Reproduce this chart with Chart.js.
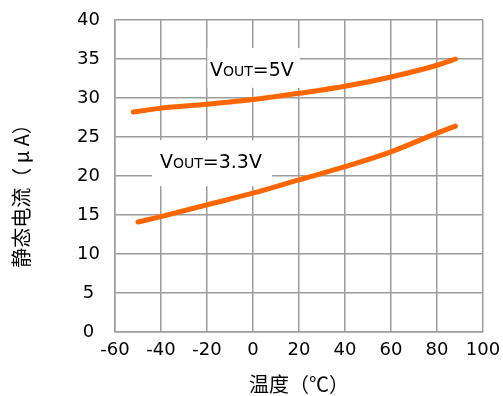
<!DOCTYPE html>
<html>
<head>
<meta charset="utf-8">
<script src="https://cdn.jsdelivr.net/npm/chart.js@4/dist/chart.umd.min.js"></script>
<style>
  body { margin: 0; background: #fff; }
  canvas { display: block; }
</style>
</head>
<body>
<canvas id="grafico" width="503" height="396"></canvas>
<script>
// temperatura (℃) e corrente (μA) de cada curva
const temp5V = [-52, -40, -20, 0, 20, 40, 60, 80, 88];
const corrente5V = [28.2, 28.7, 29.2, 29.8, 30.6, 31.5, 32.7, 34.2, 35.0];
const temp33V = [-50, -40, -20, 0, 20, 40, 60, 80, 88];
const corrente33V = [14.1, 14.8, 16.3, 17.8, 19.5, 21.2, 23.1, 25.5, 26.4];

const ticksX = [-60, -40, -20, 0, 20, 40, 60, 80, 100];
const ticksY = [0, 5, 10, 15, 20, 25, 30, 35, 40];
const rotulos = ['=5V', '=3.3V'];
const tituloY = '静态电流（ μ A）';
const tituloX = '温度（℃）';

const LARANJA = 'rgb(255, 102, 0)';
const GRADE = '#9c9c9c';
const FONTE_NUM = '"DejaVu Sans", Arial, sans-serif';
const FONTE_CJK = '"Noto Sans CJK SC", sans-serif';

function pontos(xs, ys) {
    return xs.map((x, i) => ({ x: x, y: ys[i] }));
}

// caixas brancas com o texto VOUT, desenhadas por cima da grade
const caixas = [
    { x0: -19.8, x1: 20.4, y0: 36.4, y1: 31.3, tx: 210, ty: 76, texto: rotulos[0] },
    { x0: -43.9, x1: 8.3, y0: 24.6, y1: 18.7, tx: 160, ty: 168, texto: rotulos[1] }
];

const rotuloPlugin = {
    id: 'rotuloVout',
    beforeDatasetsDraw(chart) {
        const ctx = chart.ctx;
        const sx = chart.scales.x, sy = chart.scales.y;
        ctx.save();
        caixas.forEach(c => {
            const l = sx.getPixelForValue(c.x0), r = sx.getPixelForValue(c.x1);
            const t = sy.getPixelForValue(c.y0), b = sy.getPixelForValue(c.y1);
            ctx.fillStyle = '#fff';
            ctx.fillRect(l, t, r - l, b - t);

            ctx.fillStyle = '#000';
            ctx.textBaseline = 'alphabetic';
            ctx.textAlign = 'left';
            let x = c.tx;
            ctx.font = '19px ' + FONTE_NUM;
            ctx.fillText('V', x, c.ty);
            x += ctx.measureText('V').width;
            ctx.font = '14px ' + FONTE_NUM;
            ctx.fillText('OUT', x, c.ty);
            x += ctx.measureText('OUT').width;
            ctx.font = '19px ' + FONTE_NUM;
            ctx.fillText(c.texto, x, c.ty);
        });
        ctx.restore();
    },
    // titulo do eixo Y, girado, centrado um pouco abaixo do meio
    afterDraw(chart) {
        const ctx = chart.ctx;
        ctx.save();
        ctx.translate(21, 191);
        ctx.rotate(-Math.PI / 2);
        ctx.font = '20px ' + FONTE_CJK;
        ctx.fillStyle = '#000';
        ctx.textAlign = 'center';
        ctx.textBaseline = 'middle';
        ctx.fillText(tituloY, 0, 0);
        ctx.restore();
    }
};

const estiloLinha = {
    borderColor: LARANJA,
    borderWidth: 5,
    borderCapStyle: 'round',
    pointRadius: 0,
    showLine: true,
    fill: false,
    cubicInterpolationMode: 'monotone'
};

const fonteTick = { family: FONTE_NUM, size: 18 };

new Chart(document.getElementById('grafico'), {
    type: 'scatter',
    data: {
        datasets: [
            Object.assign({ label: 'VOUT=5V', data: pontos(temp5V, corrente5V) }, estiloLinha),
            Object.assign({ label: 'VOUT=3.3V', data: pontos(temp33V, corrente33V) }, estiloLinha)
        ]
    },
    options: {
        responsive: false,
        animation: false,
        layout: { padding: { left: 0, right: 20, top: 20, bottom: 0 } },
        plugins: {
            legend: { display: false },
            tooltip: { enabled: false }
        },
        scales: {
            x: {
                type: 'linear',
                min: -60,
                max: 100,
                afterBuildTicks: s => { s.ticks = ticksX.map(v => ({ value: v })); },
                afterFit: s => { s.height = 64; s.paddingLeft = 0; s.paddingRight = 0; },
                grid: { color: GRADE, lineWidth: 1.5, drawTicks: false },
                border: { color: GRADE, width: 1.5 },
                ticks: { color: '#000', font: fonteTick, padding: 8, maxRotation: 0 },
                title: {
                    display: true,
                    text: tituloX,
                    color: '#000',
                    font: { family: FONTE_CJK, size: 20 },
                    padding: { top: 4, bottom: 0 }
                }
            },
            y: {
                type: 'linear',
                min: 0,
                max: 40,
                afterBuildTicks: s => { s.ticks = ticksY.map(v => ({ value: v })); },
                afterFit: s => { s.width = 115; s.paddingTop = 0; s.paddingBottom = 0; },
                grid: { color: GRADE, lineWidth: 1.5, drawTicks: false },
                border: { color: GRADE, width: 1.5 },
                ticks: { color: '#000', font: fonteTick, padding: 15, crossAlign: 'center' }
            }
        }
    },
    plugins: [rotuloPlugin]
});
</script>
</body>
</html>
